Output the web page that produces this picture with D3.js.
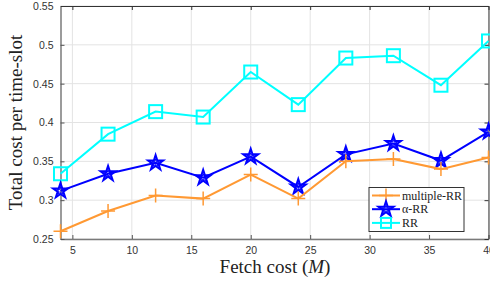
<!DOCTYPE html>
<html>
<head>
<meta charset="utf-8">
<script src="https://cdn.jsdelivr.net/npm/d3@7"></script>
<style>
  body { margin: 0; background: #fff; }
  svg { display: block; }
</style>
</head>
<body>
<div id="chart"></div>
<script>
var fetchCost = [4, 8, 12, 16, 20, 24, 28, 32, 36, 40];
var multipleRR = [0.260, 0.286, 0.306, 0.302, 0.333, 0.302, 0.350, 0.353, 0.340, 0.355];
var alphaRR = [0.312, 0.334, 0.348, 0.329, 0.356, 0.317, 0.359, 0.373, 0.351, 0.388];
var plainRR = [0.334, 0.385, 0.414, 0.407, 0.465, 0.423, 0.483, 0.486, 0.448, 0.505];
var xTicks = [5, 10, 15, 20, 25, 30, 35, 40];
var yTicks = [0.25, 0.3, 0.35, 0.4, 0.45, 0.5, 0.55];
var seriesNames = ['multiple-RR', '\u03b1-RR', 'RR'];

var series = [
  { name: seriesNames[0], values: multipleRR, color: '#ff9933', marker: 'plus' },
  { name: seriesNames[1], values: alphaRR, color: '#0000ff', marker: 'star' },
  { name: seriesNames[2], values: plainRR, color: '#00ffff', marker: 'square' }
];

var width = 490, height = 282;
var plotLeft = 60.5, plotRight = 488.5, plotTop = 6, plotBottom = 239;

var svg = d3.select('#chart')
  .append('svg')
  .attr('width', width)
  .attr('height', height);

var x = d3.scaleLinear().domain([4, 40]).range([plotLeft, plotRight]);
var y = d3.scaleLinear().domain([0.25, 0.55]).range([plotBottom, plotTop]);

// grid
svg.append('g')
  .selectAll('line')
  .data(xTicks)
  .enter()
  .append('line')
  .attr('x1', function (d) { return x(d); })
  .attr('x2', function (d) { return x(d); })
  .attr('y1', plotTop)
  .attr('y2', plotBottom)
  .attr('stroke', '#e3e3e3')
  .attr('stroke-width', 1);

svg.append('g')
  .selectAll('line')
  .data(yTicks)
  .enter()
  .append('line')
  .attr('x1', plotLeft)
  .attr('x2', plotRight)
  .attr('y1', function (d) { return y(d); })
  .attr('y2', function (d) { return y(d); })
  .attr('stroke', '#e3e3e3')
  .attr('stroke-width', 1);

// axes (inward ticks, MATLAB style)
var xAxis = svg.append('g')
  .attr('transform', 'translate(0,' + plotBottom + ')')
  .call(d3.axisBottom(x).tickValues(xTicks).tickSizeInner(-4).tickSizeOuter(0).tickPadding(8));
var yAxis = svg.append('g')
  .attr('transform', 'translate(' + plotLeft + ',0)')
  .call(d3.axisLeft(y).tickValues(yTicks).tickFormat(d3.format('~g')).tickSizeInner(-4).tickSizeOuter(0).tickPadding(7));
var xTop = svg.append('g')
  .attr('transform', 'translate(0,' + plotTop + ')')
  .call(d3.axisTop(x).tickValues(xTicks).tickSizeInner(-4).tickSizeOuter(0).tickFormat(''));
var yRight = svg.append('g')
  .attr('transform', 'translate(' + plotRight + ',0)')
  .call(d3.axisRight(y).tickValues(yTicks).tickSizeInner(-4).tickSizeOuter(0).tickFormat(''));

[xAxis, yAxis].forEach(function (g) {
  g.select('.domain').attr('stroke', '#7a7a7a').attr('stroke-width', 1.5);
  g.selectAll('.tick line').attr('stroke', '#555');
  g.selectAll('.tick text')
    .attr('fill', '#333')
    .style('font-family', 'Liberation Sans, Arial, sans-serif')
    .style('font-size', '10.5px');
});
[xTop, yRight].forEach(function (g) {
  g.select('.domain').attr('stroke', '#333').attr('stroke-width', 1);
  g.selectAll('.tick line').attr('stroke', '#333');
});

// markers
var bigStar = d3.symbol().type(d3.symbolStar).size(70);
var smallStar = d3.symbol().type(d3.symbolStar).size(18);

function drawMarker(g, type, color) {
  if (type === 'plus') {
    g.append('path')
      .attr('d', 'M-7,0H7M0,-7V7')
      .attr('stroke', color)
      .attr('stroke-width', 1.5)
      .attr('fill', 'none');
  } else if (type === 'star') {
    g.append('path')
      .attr('d', bigStar())
      .attr('stroke', color)
      .attr('stroke-width', 2)
      .attr('fill', 'none');
    g.append('path')
      .attr('d', smallStar())
      .attr('stroke', color)
      .attr('stroke-width', 1)
      .attr('fill', 'none');
  } else {
    g.append('rect')
      .attr('x', -6.5).attr('y', -6.5)
      .attr('width', 13).attr('height', 13)
      .attr('stroke', color)
      .attr('stroke-width', 2)
      .attr('fill', 'none');
  }
}

var line = d3.line()
  .x(function (d, i) { return x(fetchCost[i]); })
  .y(function (d) { return y(d); });

series.slice().reverse().forEach(function (s) {
  svg.append('path')
    .datum(s.values)
    .attr('d', line)
    .attr('fill', 'none')
    .attr('stroke', s.color)
    .attr('stroke-width', 2);

  svg.append('g')
    .selectAll('g')
    .data(s.values)
    .enter()
    .append('g')
    .attr('transform', function (d, i) { return 'translate(' + x(fetchCost[i]) + ',' + y(d) + ')'; })
    .each(function () { drawMarker(d3.select(this), s.marker, s.color); });
});

// legend
var legend = svg.append('g');
legend.append('rect')
  .attr('x', 369).attr('y', 187.5)
  .attr('width', 95).attr('height', 44)
  .attr('fill', '#fff')
  .attr('stroke', '#333')
  .attr('stroke-width', 1);

series.forEach(function (s, i) {
  var ly = 195.5 + i * 13.7;
  legend.append('line')
    .attr('x1', 372).attr('x2', 400)
    .attr('y1', ly).attr('y2', ly)
    .attr('stroke', s.color)
    .attr('stroke-width', 2);
  var m = legend.append('g').attr('transform', 'translate(386,' + ly + ')');
  if (s.marker === 'square') {
    m.append('rect')
      .attr('x', -5).attr('y', -5).attr('width', 10).attr('height', 10)
      .attr('stroke', s.color).attr('stroke-width', 2).attr('fill', 'none');
  } else {
    drawMarker(m, s.marker, s.color);
  }
  legend.append('text')
    .attr('x', 402).attr('y', ly + 4)
    .attr('fill', '#222')
    .style('font-family', 'Liberation Serif, Times New Roman, serif')
    .style('font-size', '12px')
    .text(s.name);
});

// axis titles
var xt = svg.append('text')
  .attr('x', 275).attr('y', 273)
  .attr('text-anchor', 'middle')
  .attr('fill', '#222')
  .style('font-family', 'Liberation Serif, Times New Roman, serif')
  .style('font-size', '19px');
xt.append('tspan').text('Fetch cost (');
xt.append('tspan').style('font-style', 'italic').text('M');
xt.append('tspan').text(')');

svg.append('text')
  .attr('transform', 'translate(22,' + ((plotTop + plotBottom) / 2) + ') rotate(-90)')
  .attr('text-anchor', 'middle')
  .attr('fill', '#222')
  .style('font-family', 'Liberation Serif, Times New Roman, serif')
  .style('font-size', '19px')
  .text('Total cost per time-slot');
</script>
</body>
</html>
